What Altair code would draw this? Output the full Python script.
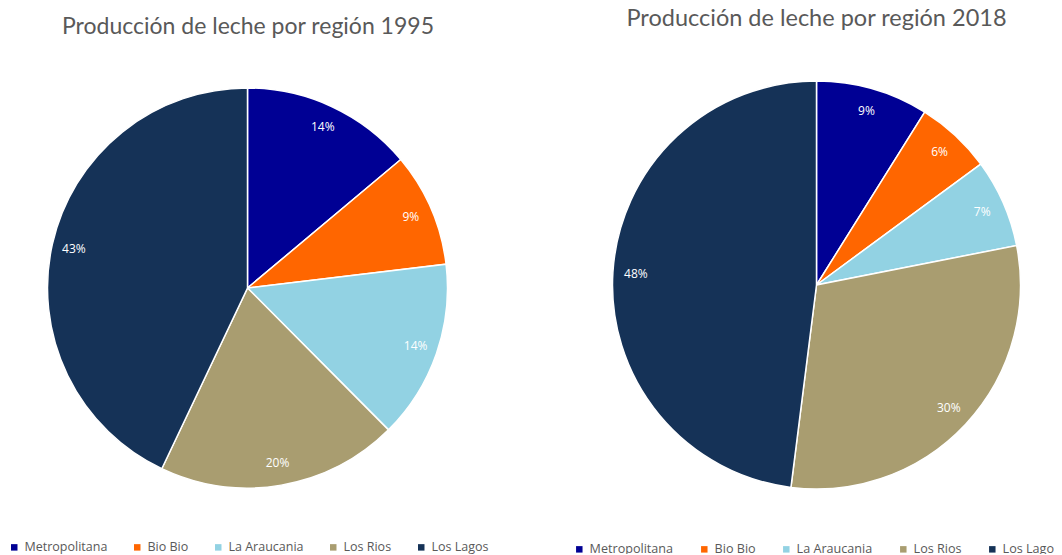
import altair as alt
import pandas as pd

regions = ["Metropolitana", "Bio Bio", "La Araucania", "Los Rios", "Los Lagos"]
values_1995 = [13.9, 9.2, 14.45, 19.5, 42.95]
values_2018 = [8.9, 6.0, 7.0, 30.1, 48.0]
titles = ["Producción de leche por región 1995", "Producción de leche por región 2018"]
colors = ["#000094", "#FF6600", "#92D2E3", "#A99D70", "#153257"]


def make_df(vals):
    return pd.DataFrame({"region": regions, "value": vals, "idx": list(range(len(regions)))})


def pie(df, cx, cy, r, lr, lx, ly, fs, cp):
    base = alt.Chart(df).transform_calculate(label="round(datum.value) + '%'")
    arcs = base.mark_arc(radius=r, stroke="white", strokeWidth=1.5).encode(
        x=alt.value(cx),
        y=alt.value(cy),
        theta=alt.Theta("value:Q", stack=True),
        order=alt.Order("idx:Q"),
        color=alt.Color(
            "region:N",
            scale=alt.Scale(domain=regions, range=colors),
            legend=alt.Legend(
                orient="none", legendX=lx, legendY=ly, direction="horizontal",
                columns=5, title=None, symbolType="square", symbolSize=42,
                symbolStrokeWidth=0, labelFontSize=fs, labelFont="Open Sans",
                labelColor="#595959", columnPadding=cp, labelOffset=4,
            ),
        ),
    )
    text = base.mark_text(radius=lr, color="white", fontSize=12, font="Open Sans").encode(
        x=alt.value(cx),
        y=alt.value(cy),
        theta=alt.Theta("value:Q", stack=True),
        order=alt.Order("idx:Q"),
        detail="region:N",
        text="label:N",
    )
    return [arcs, text]


def title(t, x, y, fs):
    return alt.Chart(pd.DataFrame({"t": [t]})).mark_text(
        font="Lato", fontSize=fs, color="#595959", baseline="middle", align="center"
    ).encode(x=alt.value(x), y=alt.value(y), text="t:N")


layers = (
    pie(make_df(values_1995), 239.5, 280, 200, 178, 0, 533, 12.5, 23)
    + pie(make_df(values_2018), 808.5, 277, 204, 181, 565, 535, 12.6, 24)
    + [title(titles[0], 240, 19, 23), title(titles[1], 808.5, 11, 23.5)]
)

chart = alt.layer(*layers).resolve_scale(color="independent", theta="independent").properties(
    width=1046, height=546, padding=0, autosize=alt.AutoSizeParams(type="none"),
    background="white",
).configure_view(stroke="transparent")

chart.save("out.html", embed_options={"renderer": "svg", "actions": False})
